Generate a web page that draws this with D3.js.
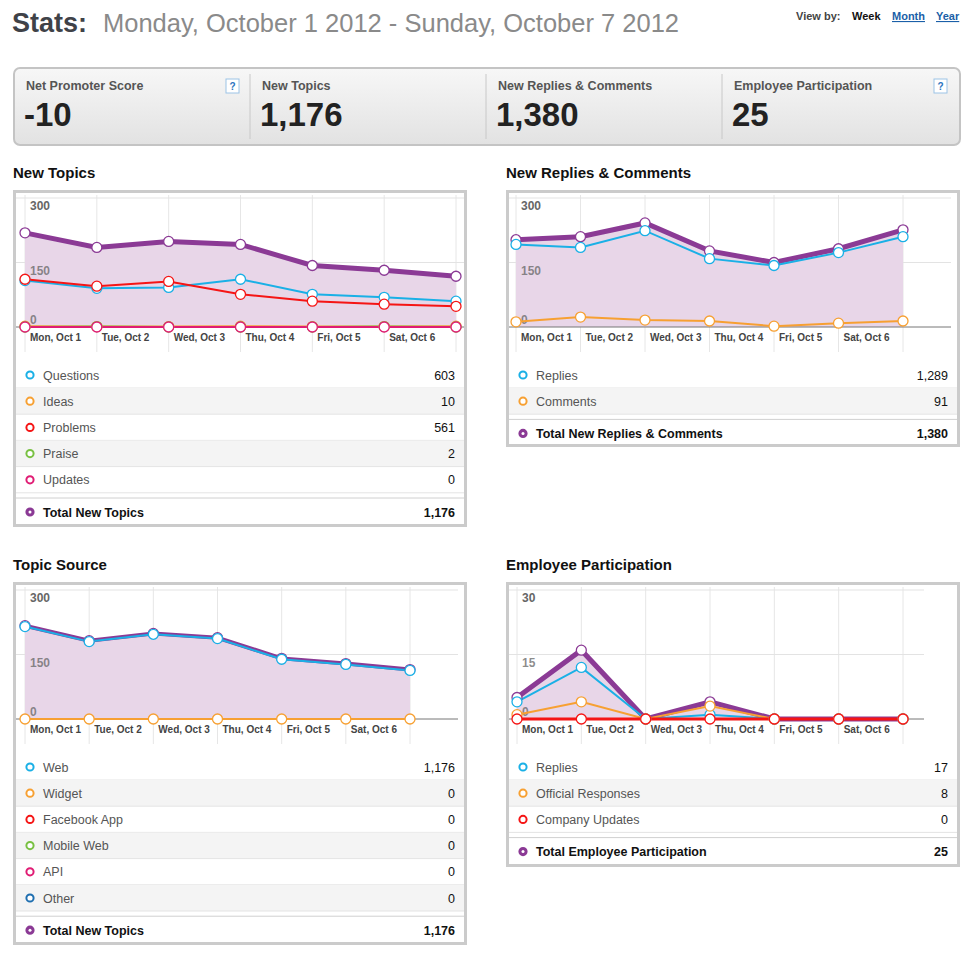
<!DOCTYPE html>
<html><head><meta charset="utf-8">
<script src="https://cdn.jsdelivr.net/npm/d3@7"></script>
<style>body{margin:0;background:#fff}svg{display:block;font-family:"Liberation Sans",Arial,sans-serif}</style>
</head><body><svg id="c" width="968" height="953"></svg>
<script>
// day labels
var days = ['Mon, Oct 1', 'Tue, Oct 2', 'Wed, Oct 3', 'Thu, Oct 4', 'Fri, Oct 5', 'Sat, Oct 6', 'Sun, Oct 7'];

// summary bar
var summaryLabels = ['Net Promoter Score', 'New Topics', 'New Replies & Comments', 'Employee Participation'];
var summaryValues = ['-10', '1,176', '1,380', '25'];

// New Topics
var ntTotal = [219, 185, 199, 192, 143, 132, 118];
var ntQuestions = [108, 90, 92, 111, 76, 69, 60];
var ntIdeas = [2, 1, 1, 2, 1, 1, 2];
var ntProblems = [111, 95, 106, 76, 60, 53, 48];
var ntPraise = [0, 1, 0, 0, 0, 1, 0];
var ntUpdates = [0, 0, 0, 0, 0, 0, 0];

// New Replies & Comments
var rcTotal = [203, 210, 242, 177, 150, 182, 226];
var rcReplies = [192, 185, 224, 159, 143, 173, 210];
var rcComments = [12, 23, 16, 14, 2, 9, 14];

// Topic Source
var tsWeb = [217, 182, 199, 189, 141, 129, 115];
var tsZero = [0, 0, 0, 0, 0, 0, 0];

// Employee Participation
var epTotal = [5, 16, 0, 4, 0, 0, 0];
var epReplies = [4, 12, 0, 1, 0, 0, 0];
var epOfficial = [1, 4, 0, 3, 0, 0, 0];
var epCompany = [0, 0, 0, 0, 0, 0, 0];

var C = {purple: '#8b3a95', blue: '#1ab0e6', orange: '#f7a032', red: '#f51515', green: '#79c143', pink: '#e01c74', navy: '#1f6fb0'};

var svg = d3.select('#c');

// header
var hd = svg.append('text').attr('x', 12).attr('y', 32).attr('font-size', 27);
hd.append('tspan').attr('font-weight', 'bold').attr('fill', '#3f4248').text('Stats:');
hd.append('tspan').attr('x', 103).attr('fill', '#8a8a8a').attr('font-size', 25.5).text('Monday, October 1 2012 - Sunday, October 7 2012');
svg.append('text').attr('x', 796).attr('y', 20).attr('font-size', 11).attr('font-weight', 'bold').attr('fill', '#444').text('View by:');
svg.append('text').attr('x', 852).attr('y', 20).attr('font-size', 11).attr('font-weight', 'bold').attr('fill', '#111').text('Week');
svg.append('text').attr('x', 892).attr('y', 20).attr('font-size', 11).attr('font-weight', 'bold').attr('fill', '#1b5fa8').attr('text-decoration', 'underline').text('Month');
svg.append('text').attr('x', 936).attr('y', 20).attr('font-size', 11).attr('font-weight', 'bold').attr('fill', '#1b5fa8').attr('text-decoration', 'underline').text('Year');

// summary box
var grad = svg.append('defs').append('linearGradient').attr('id', 'g').attr('x1', 0).attr('x2', 0).attr('y1', 0).attr('y2', 1);
grad.append('stop').attr('offset', 0).attr('stop-color', '#f7f7f7');
grad.append('stop').attr('offset', 1).attr('stop-color', '#e2e2e2');
svg.append('rect').attr('x', 14).attr('y', 68).attr('width', 946).attr('height', 77).attr('rx', 6)
  .attr('fill', 'url(#g)').attr('stroke', '#c4c4c4').attr('stroke-width', 2);
summaryLabels.forEach(function (l, i) {
  var x = 26 + i * 236;
  if (i > 0) svg.append('line').attr('x1', x - 12).attr('x2', x - 12).attr('y1', 74).attr('y2', 139).attr('stroke', '#c8c8c8');
  svg.append('text').attr('x', x).attr('y', 90).attr('font-size', 12.5).attr('font-weight', 'bold').attr('fill', '#555').text(l);
  svg.append('text').attr('x', x - 2).attr('y', 126).attr('font-size', 33).attr('font-weight', 'bold').attr('fill', '#222').text(summaryValues[i]);
  if (i == 0 || i == 3) {
    var qx = x + 200;
    svg.append('rect').attr('x', qx).attr('y', 79).attr('width', 13).attr('height', 14).attr('fill', '#fff').attr('stroke', '#9cc3e6');
    svg.append('text').attr('x', qx + 6.5).attr('y', 90).attr('text-anchor', 'middle').attr('font-size', 10).attr('font-weight', 'bold').attr('fill', '#2a74c0').text('?');
  }
});

function panel(cfg) {
  var g = svg.append('g');
  g.append('text').attr('x', cfg.x).attr('y', cfg.y - 12).attr('font-size', 15).attr('font-weight', 'bold').attr('fill', '#111').text(cfg.title);
  g.append('rect').attr('x', cfg.x + 1.5).attr('y', cfg.y + 1.5).attr('width', 451).attr('height', cfg.h - 3)
    .attr('fill', '#fff').attr('stroke', '#cbcbcb').attr('stroke-width', 3);
  var x = d3.scalePoint().domain(d3.range(7)).range([cfg.px0, cfg.px1]);
  var y = d3.scaleLinear().domain([0, cfg.max]).range([cfg.zy, cfg.zy - 129]);
  var top = cfg.y + 5;
  // grid
  g.selectAll('.vg').data(d3.range(7)).join('line').attr('x1', x).attr('x2', x)
    .attr('y1', top).attr('y2', cfg.zy + 25).attr('stroke', '#e6e6e6');
  [cfg.max, cfg.max / 2].forEach(function (v) {
    g.append('line').attr('x1', cfg.x + 3).attr('x2', cfg.gx1).attr('y1', y(v)).attr('y2', y(v)).attr('stroke', '#e3e3e3');
  });
  // area
  g.append('path').datum(cfg.total).attr('fill', '#e8d6e8')
    .attr('d', d3.area().x(function (d, i) { return x(i); }).y0(y(0)).y1(function (d) { return y(d); }));
  g.append('line').attr('x1', cfg.x + 3).attr('x2', cfg.gx1).attr('y1', y(0)).attr('y2', y(0)).attr('stroke', '#777');
  [cfg.max, cfg.max / 2, 0].forEach(function (v) {
    g.append('text').attr('x', cfg.px0 + 5).attr('y', v == 0 ? y(0) - 3 : y(v) + 12).attr('font-size', 12).attr('font-weight', 'bold')
      .attr('fill', '#666').attr('fill-opacity', v == cfg.max ? 1 : 0.75).text(v);
  });
  g.selectAll('.xl').data(days.slice(0, 6)).join('text').attr('x', function (d, i) { return x(i) + 5; })
    .attr('y', cfg.zy + 14).attr('font-size', 10).attr('font-weight', 'bold').attr('fill', '#444').text(function (d) { return d; });
  var line = d3.line().x(function (d, i) { return x(i); }).y(function (d) { return y(d); });
  cfg.lines.forEach(function (s) {
    g.append('path').datum(s.v).attr('fill', 'none').attr('stroke', s.c).attr('stroke-width', s.w || 2).attr('d', line);
  });
  cfg.lines.forEach(function (s) {
    g.selectAll(null).data(s.v).join('circle').attr('cx', function (d, i) { return x(i); }).attr('cy', function (d) { return y(d); })
      .attr('r', 5).attr('fill', '#fff').attr('stroke', s.c).attr('stroke-width', 1.3);
  });
  // table
  var ty = cfg.zy + 48;
  cfg.rows.forEach(function (r, i) {
    var cy = ty + i * 26.2;
    if (i % 2 == 1) g.append('rect').attr('x', cfg.x + 3).attr('y', cy - 13).attr('width', 448).attr('height', 26).attr('fill', '#f4f4f4');
    g.append('line').attr('x1', cfg.x + 3).attr('x2', cfg.x + 451).attr('y1', cy + 13).attr('y2', cy + 13).attr('stroke', '#e4e4e4');
    dotRow(g, cfg.x, cy, r, false);
  });
  var tcy = ty + cfg.rows.length * 26.2 + 6;
  g.append('line').attr('x1', cfg.x + 3).attr('x2', cfg.x + 451).attr('y1', tcy - 14).attr('y2', tcy - 14).attr('stroke', '#d0d0d0');
  dotRow(g, cfg.x, tcy, cfg.totalRow, true);
}

function dotRow(g, x0, cy, r, bold) {
  g.append('circle').attr('cx', x0 + 17).attr('cy', cy).attr('r', 3.6).attr('fill', bold ? r.c : '#fff')
    .attr('stroke', r.c).attr('stroke-width', 2);
  if (bold) g.append('circle').attr('cx', x0 + 17).attr('cy', cy).attr('r', 1.5).attr('fill', '#fff');
  g.append('text').attr('x', x0 + 30).attr('y', cy + 4.5).attr('font-size', 12.5).attr('font-weight', bold ? 'bold' : 'normal')
    .attr('fill', bold ? '#111' : '#555').text(r.n);
  g.append('text').attr('x', x0 + 442).attr('y', cy + 4.5).attr('text-anchor', 'end').attr('font-size', 12.5)
    .attr('font-weight', bold ? 'bold' : 'normal').attr('fill', '#111').text(r.v);
}

panel({title: 'New Topics', x: 13, y: 190, h: 337, px0: 25, px1: 456, zy: 327, max: 300, gx1: 464,
  total: ntTotal,
  lines: [{v: ntTotal, c: C.purple, w: 5}, {v: ntQuestions, c: C.blue}, {v: ntProblems, c: C.red},
    {v: ntIdeas, c: C.orange}, {v: ntPraise, c: C.green}, {v: ntUpdates, c: C.pink}],
  rows: [{n: 'Questions', v: '603', c: C.blue}, {n: 'Ideas', v: '10', c: C.orange}, {n: 'Problems', v: '561', c: C.red},
    {n: 'Praise', v: '2', c: C.green}, {n: 'Updates', v: '0', c: C.pink}],
  totalRow: {n: 'Total New Topics', v: '1,176', c: C.purple}});

panel({title: 'New Replies & Comments', x: 506, y: 190, h: 257, px0: 516, px1: 903, zy: 327, max: 300, gx1: 951,
  total: rcTotal,
  lines: [{v: rcTotal, c: C.purple, w: 5}, {v: rcReplies, c: C.blue}, {v: rcComments, c: C.orange}],
  rows: [{n: 'Replies', v: '1,289', c: C.blue}, {n: 'Comments', v: '91', c: C.orange}],
  totalRow: {n: 'Total New Replies & Comments', v: '1,380', c: C.purple}});

panel({title: 'Topic Source', x: 13, y: 582, h: 363, px0: 25, px1: 410, zy: 719, max: 300, gx1: 458,
  total: tsWeb,
  lines: [{v: tsWeb, c: C.purple, w: 4}, {v: tsWeb.map(function (d) { return d - 2; }), c: C.blue, w: 2},
    {v: tsZero, c: C.orange}],
  rows: [{n: 'Web', v: '1,176', c: C.blue}, {n: 'Widget', v: '0', c: C.orange}, {n: 'Facebook App', v: '0', c: C.red},
    {n: 'Mobile Web', v: '0', c: C.green}, {n: 'API', v: '0', c: C.pink}, {n: 'Other', v: '0', c: C.navy}],
  totalRow: {n: 'Total New Topics', v: '1,176', c: C.purple}});

panel({title: 'Employee Participation', x: 506, y: 582, h: 285, px0: 517, px1: 903, zy: 719, max: 30, gx1: 924,
  total: epTotal,
  lines: [{v: epTotal, c: C.purple, w: 5}, {v: epReplies, c: C.blue}, {v: epOfficial, c: C.orange}, {v: epCompany, c: C.red, w: 3}],
  rows: [{n: 'Replies', v: '17', c: C.blue}, {n: 'Official Responses', v: '8', c: C.orange}, {n: 'Company Updates', v: '0', c: C.red}],
  totalRow: {n: 'Total Employee Participation', v: '25', c: C.purple}});
</script></body></html>
